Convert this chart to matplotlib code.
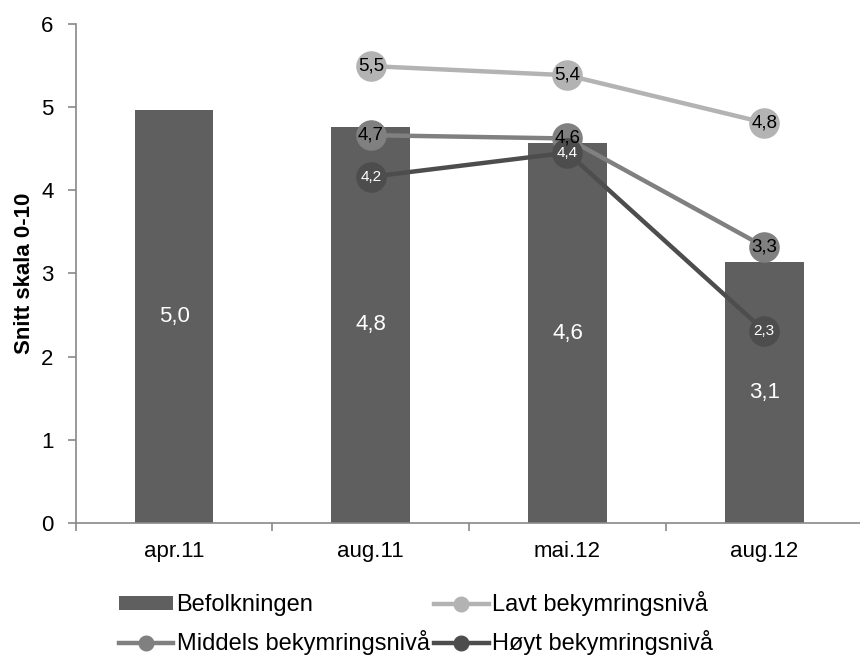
import numpy as np
import matplotlib.pyplot as plt

plt.rcParams['font.family'] = ['Liberation Sans', 'DejaVu Sans']

periods = ['apr.11', 'aug.11', 'mai.12', 'aug.12']
befolkningen = [4.96, 4.76, 4.56, 3.14]
befolkningen_labels = ['5,0', '4,8', '4,6', '3,1']

lavt = [np.nan, 5.49, 5.38, 4.81]
middels = [np.nan, 4.66, 4.62, 3.32]
hoyt = [np.nan, 4.16, 4.45, 2.31]
lavt_labels = ['', '5,5', '5,4', '4,8']
middels_labels = ['', '4,7', '4,6', '3,3']
hoyt_labels = ['', '4,2', '4,4', '2,3']

spine_col = '#898989'

fig = plt.figure(figsize=(8.6, 6.57), dpi=100)
ax = fig.add_axes([0.088, 0.204, 0.915, 0.76])
x = np.arange(len(periods))

bars = ax.bar(x, befolkningen, 0.4, color='#5f5f5f', label='Befolkningen', zorder=2)
for xi, v, t in zip(x, befolkningen, befolkningen_labels):
    ax.text(xi, v / 2, t, color='white', fontsize=16, ha='center', va='center', zorder=6)

series = [
    (lavt, lavt_labels, '#b3b3b3', 'Lavt bekymringsnivå', 'black', 13.5),
    (middels, middels_labels, '#808080', 'Middels bekymringsnivå', 'black', 13.5),
    (hoyt, hoyt_labels, '#4d4d4d', 'Høyt bekymringsnivå', 'white', 11),
]
lines = []
for vals, labs, col, name, tcol, fs in series:
    ln, = ax.plot(x, vals, color=col, lw=3.2, marker='o', ms=21,
                  label=name, zorder=3)
    lines.append(ln)
    for xi, v, t in zip(x, vals, labs):
        if t:
            ax.text(xi, v, t, color=tcol, fontsize=fs, ha='center', va='center', zorder=7)

ax.set_xlim(-0.5, 3.5)
ax.set_ylim(0, 6)
ax.set_yticks(range(7))
ax.set_xticks(x)
ax.set_xticklabels(periods)
ax.set_xticks(np.arange(-0.5, 3.6, 1), minor=True)
ax.tick_params(axis='x', which='major', length=0, pad=13, labelsize=16)
ax.tick_params(axis='x', which='minor', length=6, width=1.2, color=spine_col)
ax.tick_params(axis='y', length=6, width=1.2, color=spine_col, labelsize=16, pad=10)
for s in ['top', 'right']:
    ax.spines[s].set_visible(False)
for s in ['left', 'bottom']:
    ax.spines[s].set_color(spine_col)
    ax.spines[s].set_linewidth(1.2)
ax.set_ylabel('Snitt skala 0-10', fontsize=16, fontweight='bold', labelpad=4)

# legend: row 1 Befolkningen / Lavt, row 2 Middels / Hoyt
handles = [bars, lines[1], lines[0], lines[2]]
fig.legend(handles, [h.get_label() for h in handles], ncol=2,
           loc='upper left', bbox_to_anchor=(0.138, 0.1), frameon=False,
           borderpad=0, borderaxespad=0,
           fontsize=17, handlelength=2.3, handleheight=0.5, handletextpad=0.15,
           columnspacing=0.2, labelspacing=0.6, markerscale=0.5)

fig.savefig('out.png', dpi=100)
